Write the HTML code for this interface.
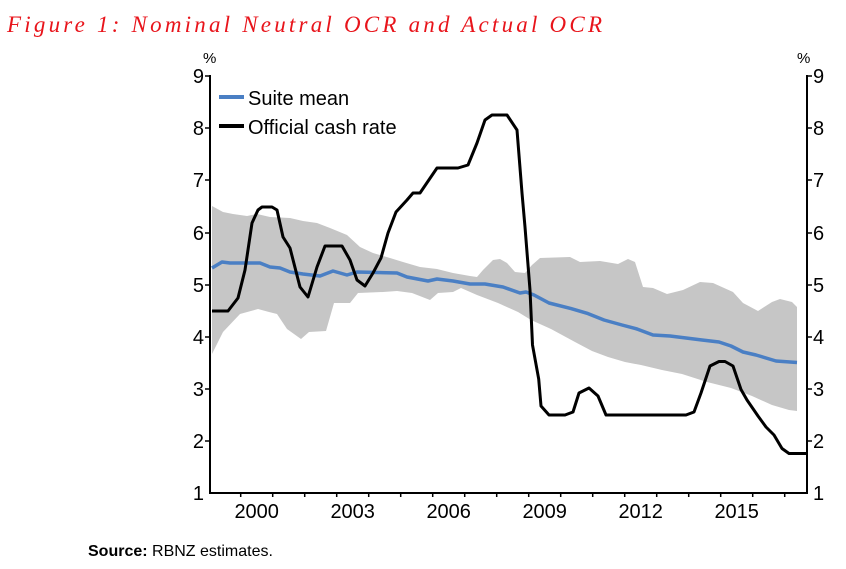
<!DOCTYPE html>
<html><head><meta charset="utf-8"><style>
html,body{margin:0;padding:0;background:#fff;}
svg{display:block;}
</style></head><body>
<svg width="846" height="569" viewBox="0 0 846 569" xmlns="http://www.w3.org/2000/svg">
<text x="7" y="32" font-family="'Liberation Serif',serif" font-style="italic" font-size="23" fill="#e8141b" textLength="595" lengthAdjust="spacing">Figure 1: Nominal Neutral OCR and Actual OCR</text>

<!-- band -->
<polygon fill="#c6c6c6" points="212,206 223,212 233,214 247,216 257,214 270,217 290,218 303,221 317,223 330,228 347,235 360,247 373,253 390,258 403,262 420,267 437,269 453,273 470,276 477,277 483,270 493,260 500,259 507,263 515,272 525,273 532,265 540,258 570,257 580,262 600,261 618,264 628,259 635,262 643,287 653,288 667,294 683,290 700,282 713,283 733,292 743,303 758,311 772,302 780,299 792,302 797,307 797,411 789,410 772,405 752,396 731,388 707,382 682,374 662,370 641,365 625,362 608,357 592,351 575,342 551,329 531,320 518,312 498,303 477,295 461,288 453,292 438,293 430,300 412,293 397,291 383,292 358,293 350,303 334,303 326,331 309,332 301,339 287,329 277,314 269,312 258,309 240,314 223,332 212,354"/>

<!-- blue -->
<polyline fill="none" stroke="#4a7fc4" stroke-width="3.5" stroke-linejoin="round" points="212,268 222,262 230,263 260,263 270,267 280,268 290,272 303,274 320,276 333,271 347,275 357,272 397,273 407,277 428,281 437,279 453,281 470,284 485,284 503,287 520,293 526,292 534,295 549,303 571,308.6 588,313.6 604,320 622,325 637,329 653,335 670,336 686,338 702,340 719,342 731,346 743,352 756,355 776,361 797,362.5"/>

<!-- black -->
<polyline fill="none" stroke="#000" stroke-width="3" stroke-linejoin="round" points="212,311 228,311 238,298 245,270 252,223 258,210 262,207 272,207 277,210 283,237 290,248 300,287 308,297 317,267 325,246 342,246 350,260 357,280 365,286 373,273 381,258 388,233 396,212 407,200 413,193 420,193 437,168 458,168 468,165 477,143 485,120 492,115 507,115 517,130 522,193 525,227 530,290 532.5,345 538.7,379 541,406 549,415 565,415 573,412 579,393 589,388 598,396 606,415 686,415 694,412 701,393 710,366 719,361.5 725,361.5 733,366 741,389.5 747,400 758,416 766,427 774,435 782,448.5 789,453.5 806,453.5"/>

<!-- axes -->
<g stroke="#000" stroke-width="2" fill="none">
<line x1="210" y1="75" x2="210" y2="494"/>
<line x1="807" y1="75" x2="807" y2="494"/>
<line x1="209" y1="493" x2="808" y2="493"/>
</g>
<g stroke="#000" stroke-width="1.5">
<line x1="205" y1="76" x2="210" y2="76"/><line x1="205" y1="128" x2="210" y2="128"/><line x1="205" y1="180" x2="210" y2="180"/><line x1="205" y1="233" x2="210" y2="233"/><line x1="205" y1="285" x2="210" y2="285"/><line x1="205" y1="337" x2="210" y2="337"/><line x1="205" y1="389" x2="210" y2="389"/><line x1="205" y1="441" x2="210" y2="441"/>
<line x1="807" y1="76" x2="812" y2="76"/><line x1="807" y1="128" x2="812" y2="128"/><line x1="807" y1="180" x2="812" y2="180"/><line x1="807" y1="233" x2="812" y2="233"/><line x1="807" y1="285" x2="812" y2="285"/><line x1="807" y1="337" x2="812" y2="337"/><line x1="807" y1="389" x2="812" y2="389"/><line x1="807" y1="441" x2="812" y2="441"/>
</g>
<g stroke="#000" stroke-width="1.5">
<line x1="240.7" y1="493" x2="240.7" y2="497"/><line x1="272.7" y1="493" x2="272.7" y2="497"/><line x1="304.7" y1="493" x2="304.7" y2="497"/><line x1="336.7" y1="493" x2="336.7" y2="497"/><line x1="368.7" y1="493" x2="368.7" y2="497"/><line x1="400.7" y1="493" x2="400.7" y2="497"/><line x1="432.7" y1="493" x2="432.7" y2="497"/><line x1="464.7" y1="493" x2="464.7" y2="497"/><line x1="496.7" y1="493" x2="496.7" y2="497"/><line x1="528.7" y1="493" x2="528.7" y2="497"/><line x1="560.7" y1="493" x2="560.7" y2="497"/><line x1="592.7" y1="493" x2="592.7" y2="497"/><line x1="624.7" y1="493" x2="624.7" y2="497"/><line x1="656.7" y1="493" x2="656.7" y2="497"/><line x1="688.7" y1="493" x2="688.7" y2="497"/><line x1="720.7" y1="493" x2="720.7" y2="497"/><line x1="752.7" y1="493" x2="752.7" y2="497"/><line x1="784.7" y1="493" x2="784.7" y2="497"/>
</g>

<g font-family="'Liberation Sans',sans-serif" font-size="20" fill="#000">
<g text-anchor="end">
<text x="204" y="83">9</text><text x="204" y="135">8</text><text x="204" y="187">7</text><text x="204" y="240">6</text><text x="204" y="292">5</text><text x="204" y="344">4</text><text x="204" y="396">3</text><text x="204" y="448">2</text><text x="204" y="500">1</text>
</g>
<g text-anchor="start">
<text x="813" y="83">9</text><text x="813" y="135">8</text><text x="813" y="187">7</text><text x="813" y="240">6</text><text x="813" y="292">5</text><text x="813" y="344">4</text><text x="813" y="396">3</text><text x="813" y="448">2</text><text x="813" y="500">1</text>
</g>
<text x="203" y="63" font-size="15">%</text>
<text x="797" y="63" font-size="15">%</text>
<g text-anchor="middle">
<text x="256.7" y="518">2000</text><text x="352.7" y="518">2003</text><text x="448.7" y="518">2006</text><text x="544.7" y="518">2009</text><text x="640.7" y="518">2012</text><text x="736.7" y="518">2015</text>
</g>
<line x1="219" y1="97" x2="244" y2="97" stroke="#4a7fc4" stroke-width="4"/>
<text x="248" y="105">Suite mean</text>
<line x1="219" y1="126" x2="244" y2="126" stroke="#000" stroke-width="4"/>
<text x="248" y="134">Official cash rate</text>
<text x="88" y="556" font-size="16"><tspan font-weight="bold">Source:</tspan> RBNZ estimates.</text>
</g>
</svg>
</body></html>
